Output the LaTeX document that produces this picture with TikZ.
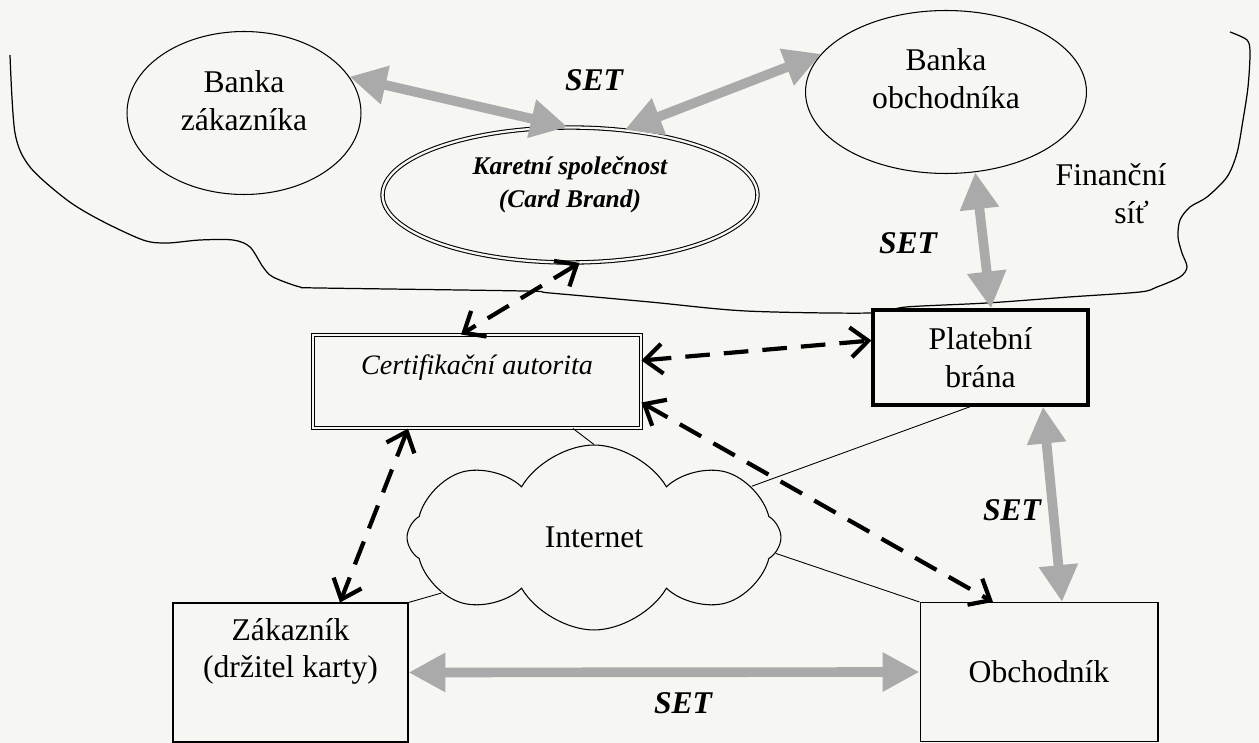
\documentclass[tikz,border=0pt]{standalone}
\usepackage{fontspec}
\setmainfont{Liberation Serif}
\usetikzlibrary{arrows.meta}
\usetikzlibrary{positioning}
\usetikzlibrary{shapes.geometric}
\usetikzlibrary{shapes.symbols}
\definecolor{paper}{RGB}{246,246,243}
\definecolor{setgray}{RGB}{170,170,170}
\tikzset {
  % text of the participants
  plain/.style = {
    align = center,
    inner sep = 0,
    font = \fontsize{18}{21.5}\selectfont
  },
  % protocol label
  proto/.style = {
    plain,
    font = \fontsize{18}{21.5}\selectfont\bfseries\itshape
  },
  every label/.style = {
    plain
  },
  part node/.style = {
    plain,
    draw = black,
    fill = paper,
    line width = 0.6pt
  },
  % bank of the financial network
  bank/.style = {
    part node,
    ellipse
  },
  % card brand
  brand/.style = {
    bank,
    double = paper,
    double distance = 1.3pt
  },
  % customer, merchant
  party/.style = {
    part node,
    rectangle
  },
  gateway/.style = {
    party,
    line width = 1.8pt
  },
  authority/.style = {
    party,
    double = paper,
    double distance = 1.3pt
  },
  net/.style = {
    part node,
    cloud,
    cloud puffs = 8,
    cloud puff arc = 120
  }
}
\tikzset {
  % SET message flow
  set link/.style = {
    draw = setgray,
    line width = 5.5pt,
    > = {Triangle[length = 21pt, width = 21pt]},
    <->
  },
  % certificate exchange
  cert link/.style = {
    draw = black,
    line width = 2.4pt,
    dash pattern = on 14pt off 8pt,
    > = {Straight Barb[length = 10pt, width = 17pt]},
    <->
  },
  % plain connection to the internet
  net link/.style = {
    draw = black,
    line width = 0.5pt
  },
  area line/.style = {
    draw = black,
    line width = 0.7pt
  }
}
\begin{document}
\begin{tikzpicture}[x = 0.02cm, y = -0.02cm]
  \fill[paper] (0,0) rectangle (1259,743);
  \useasboundingbox (0,0) rectangle (1259,743);

  % financial network
  \draw[area line] plot[smooth, tension = 0.5] coordinates {
    (10,55) (15,133) (30,167) (67,200) (100,220) (143,240) (167,243)
    (200,240) (233,240) (250,247) (263,267) (273,277) (300,287) (320,288)
    (523,291) (550,293) (650,302) (746,311) (871,313) (906,307) (987,303)
    (1069,297) (1140,292) (1157,287) (1180,277) (1187,267) (1182,253)
    (1178,237) (1180,220) (1190,207) (1207,197) (1227,177) (1237,153)
    (1243,120) (1248,87) (1250,53) (1247,40) (1230,32)};

  \node[bank, minimum width = 4.68cm, minimum height = 3.26cm,
    label = {[yshift = 0.24cm]center:Banka\\zákazníka}] (bank-c) at (244,113) {};
  \node[bank, minimum width = 5.62cm, minimum height = 3.26cm,
    label = {[yshift = 0.27cm]center:Banka\\obchodníka}] (bank-m) at (946,92) {};
  \node[brand, minimum width = 7.5cm, minimum height = 2.7cm,
    label = {[yshift = 0.2cm, font = \fontsize{14.5}{18.7}\selectfont\bfseries\itshape]center:Karetní společnost\\(Card Brand)}] (brand) at (570,195) {};
  \node[authority, minimum width = 6.56cm, minimum height = 1.86cm,
    label = {[yshift = 0.27cm, font = \fontsize{16}{19}\selectfont\itshape]center:Certifikační autorita}] (ca) at (477,381.5) {};
  \node[gateway, minimum width = 4.3cm, minimum height = 1.9cm] (gate) at (980.5,357.5) {Platební\\brána};
  \node[net, minimum width = 7.48cm, minimum height = 3.7cm] (net) at (594,537.5) {Internet};
  \node[party, minimum width = 4.7cm, minimum height = 2.78cm,
    label = {[yshift = 0.42cm]center:Zákazník\\(držitel karty)}] (customer) at (290.5,672.5) {};
  \node[party, minimum width = 4.76cm, minimum height = 2.78cm] (merchant) at (1039,672) {Obchodník};

  \draw[net link] ([xshift = 1.92cm]ca.south) -- (net.north);
  \draw[net link] (net.18) -- ([xshift = -0.2cm]gate.south);
  \draw[net link] (net.-5) -- (merchant.north west);
  \draw[net link] (net.200) -- (customer.north east);

  \draw[set link] (bank-c.19) -- (brand.92);
  \draw[set link] (brand.50) -- (bank-m.163);
  \draw[set link] (bank-m.-70) -- ([xshift = 0.21cm]gate.north);
  \draw[set link] ([xshift = 1.25cm]gate.south) -- ([xshift = 0.46cm]merchant.north);
  \draw[set link] (customer.east) -- (merchant.west);

  \draw[cert link] (brand.-82) -- ([xshift = -0.32cm]ca.north);
  \draw[cert link] ([yshift = 0.42cm]ca.east) -- ([yshift = 0.34cm]gate.west);
  \draw[cert link] ([yshift = -0.42cm]ca.east) -- ([xshift = -0.92cm]merchant.north);
  \draw[cert link] ([xshift = -1.38cm]ca.south) -- ([xshift = 0.99cm]customer.north);

  \node[proto] (set-top) at (594,80) {SET};
  \node[proto] (set-bank) at (908,243) {SET};
  \node[proto] (set-gate) at (1012,510) {SET};
  \node[proto] (set-shop) at (683,703) {SET};
  \node[plain] (fin-net) at (1111,194) {Finanční\\\hspace*{1.3em}síť};
\end{tikzpicture}
\end{document}
